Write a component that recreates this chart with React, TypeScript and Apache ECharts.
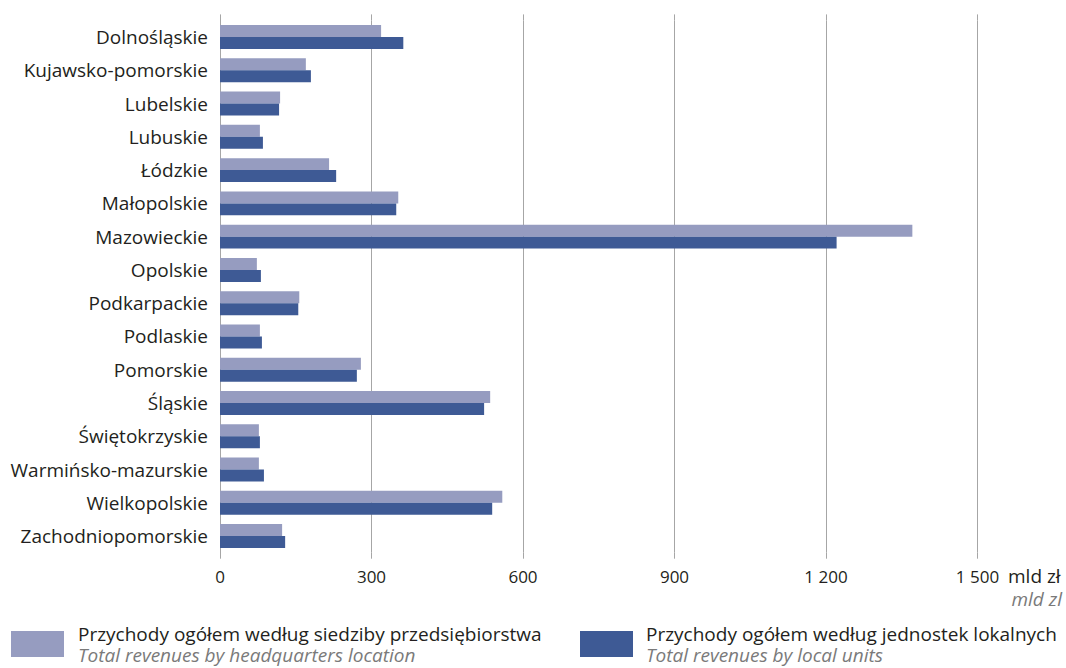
import React, { useEffect, useRef } from "react";
import * as echarts from "echarts";

const categories = [
  "Dolnośląskie",
  "Kujawsko-pomorskie",
  "Lubelskie",
  "Lubuskie",
  "Łódzkie",
  "Małopolskie",
  "Mazowieckie",
  "Opolskie",
  "Podkarpackie",
  "Podlaskie",
  "Pomorskie",
  "Śląskie",
  "Świętokrzyskie",
  "Warmińsko-mazurskie",
  "Wielkopolskie",
  "Zachodniopomorskie",
];

const headquarters = [319, 170, 119, 79, 216, 353, 1371, 73, 157, 79, 279, 535, 77, 77, 559, 123];
const localUnits = [363, 180, 117, 85, 230, 349, 1221, 81, 155, 83, 271, 523, 79, 87, 539, 129];

const seriesNames = [
  "Przychody ogółem według siedziby przedsiębiorstwa",
  "Przychody ogółem według jednostek lokalnych",
];
const seriesNamesEn = ["Total revenues by headquarters location", "Total revenues by local units"];

const xTicks = { min: 0, max: 1500, interval: 300 };
const unitPl = "mld zł";
const unitEn = "mld zl";

const FONT = "'Open Sans', 'Noto Sans', sans-serif";
const LIGHT = "#969cc0";
const DARK = "#3e5a95";
const GRID = "#a6a6a6";
const TEXT = "#231f20";
const GREY = "#7a7a7a";

const fmt = (v: number) => String(v).replace(/\B(?=(\d{3})+(?!\d))/g, " ");

export default function App() {
  const ref = useRef<HTMLDivElement>(null);
  useEffect(() => {
    if (!ref.current) return;
    const chart = echarts.init(ref.current, undefined, { renderer: "svg" });
    const legendCommon = (i: number, left: number, pad: number) => ({
      data: [seriesNames[i]],
      left,
      top: 624,
      padding: 0,
      itemWidth: 53,
      itemHeight: 26,
      icon: "rect",
      formatter: (name: string) => `{a|${name}}\n{b|${seriesNamesEn[seriesNames.indexOf(name)]}}`,
      textStyle: {
        padding: [0, 0, 0, pad],
        rich: {
          a: { fontFamily: FONT, fontSize: 19, color: TEXT, lineHeight: 22 },
          b: { fontFamily: FONT, fontSize: 19, color: GREY, fontStyle: "italic", lineHeight: 21 },
        },
      },
      selectedMode: false,
    });
    chart.setOption({
      animation: false,
      textStyle: { fontFamily: FONT },
      grid: { left: 220, top: 20.4, width: 757.5, height: 532.3, containLabel: false },
      legend: [legendCommon(0, 11, 9), legendCommon(1, 580, 8)],
      xAxis: [
        {
          type: "value",
          position: "bottom",
          ...xTicks,
          axisLine: { show: false },
          axisTick: { show: true, length: 6, lineStyle: { color: GRID } },
          splitLine: { show: true, lineStyle: { color: GRID, width: 1 } },
          axisLabel: {
            formatter: (v: number) => fmt(v),
            fontSize: 17,
            color: TEXT,
            margin: 15,
            fontFamily: FONT,
          },
        },
        {
          type: "value",
          position: "top",
          ...xTicks,
          axisLine: { show: false },
          axisTick: { show: true, length: 6, lineStyle: { color: GRID } },
          splitLine: { show: false },
          axisLabel: { show: false },
        },
      ],
      yAxis: {
        type: "category",
        data: categories,
        inverse: true,
        axisLine: { show: true, lineStyle: { color: GRID } },
        axisTick: { show: false },
        axisLabel: { fontSize: 19, color: TEXT, margin: 12, fontFamily: FONT },
      },
      graphic: [
        {
          type: "text",
          left: 1008,
          top: 566,
          style: { text: unitPl, fontSize: 19, lineHeight: 20, fill: TEXT, fontFamily: FONT },
        },
        {
          type: "text",
          right: 4,
          top: 589,
          style: { text: unitEn, fontSize: 19, lineHeight: 20, fill: GREY, fontStyle: "italic", fontFamily: FONT },
        },
      ],
      series: [
        {
          name: seriesNames[0],
          type: "bar",
          data: headquarters,
          itemStyle: { color: LIGHT },
          barGap: "0%",
          barCategoryGap: "28%",
        },
        {
          name: seriesNames[1],
          type: "bar",
          data: localUnits,
          itemStyle: { color: DARK },
          barGap: "0%",
          barCategoryGap: "28%",
        },
      ],
    });
    return () => chart.dispose();
  }, []);
  return <div ref={ref} style={{ width: 1066, height: 668, position: "absolute", left: 0, top: 0 }} />;
}
